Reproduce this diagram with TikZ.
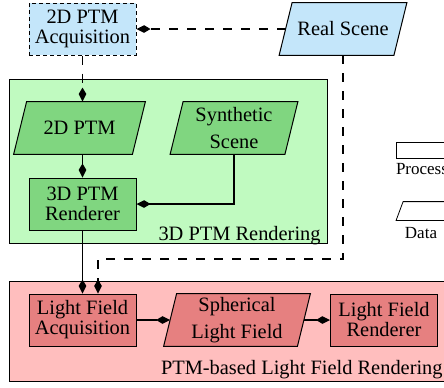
\documentclass[tikz,border=0pt]{standalone}
\usepackage{fontspec}
\setmainfont{Liberation Serif}
\usetikzlibrary{arrows.meta}
\pgfdeclarelayer{back}
\pgfdeclarelayer{mid}
\pgfsetlayers{back,mid,main}
\definecolor{bluefill}{RGB}{196,230,250}
\definecolor{greenout}{RGB}{192,250,192}
\definecolor{greenin}{RGB}{128,214,128}
\definecolor{redout}{RGB}{255,190,190}
\definecolor{redin}{RGB}{230,128,128}
\begin{document}
\begin{tikzpicture}[x=0.5pt,y=-0.5pt,
  every node/.style={inner sep=0pt, align=center},
  proc/.style={draw, line width=0.5pt, rectangle, minimum width=53.5pt, minimum height=26pt,
    font=\rmfamily\fontsize{10.2}{10}\selectfont},
  data/.style={rectangle, minimum width=#1, minimum height=26pt,
    font=\rmfamily\fontsize{10.2}{13.5}\selectfont},
  datashape/.style={draw, line width=0.5pt},
  conn/.style={line width=0.65pt, -{Kite[length=7pt,width=3.8pt,inset=3.2pt]}},
  dconn/.style={conn, dash pattern=on 4.5pt off 4.5pt},
  group/.style={draw, line width=0.5pt, rectangle, anchor=north west, inner sep=0pt},
  grplabel/.style={anchor=base east, font=\rmfamily\fontsize{10.2}{12}\selectfont},
  legtext/.style={font=\rmfamily\fontsize{8.5}{10}\selectfont}]
\useasboundingbox (0,0) rectangle (444,387);
% groups
\begin{pgfonlayer}{back}
\node[group, fill=greenout, minimum width=159pt, minimum height=82pt] (grpR) at (9,79) {};
\node[group, fill=redout, minimum width=219.5pt, minimum height=50pt] (grpL) at (9,281) {};
\end{pgfonlayer}
\node[grplabel] (lblR) at (321,240) {3D PTM Rendering};
\node[grplabel] (lblL) at (443,374) {PTM-based Light Field Rendering};
% nodes
\node[proc, fill=bluefill, dash pattern=on 2pt off 1.5pt] (acq) at (82.5,29) {2D PTM\\Acquisition};
\node[data=57pt] (real) at (343,29) {Real Scene};
\node[data=59pt] (ptm) at (79.5,128) {2D PTM};
\node[data=57pt] (synth) at (234,128) {Synthetic\\Scene};
\node[proc, fill=greenin] (rend) at (82.5,204) {3D PTM\\Renderer};
\node[proc, fill=redin] (lfa) at (82.5,320) {Light Field\\Acquisition};
\node[data=66.5pt] (slf) at (237,320) {Spherical\\Light Field};
\node[proc, fill=redin] (lfr) at (384,320) {Light Field\\Renderer};
% parallelogram outlines of the data nodes
\begin{pgfonlayer}{mid}
\foreach \n/\c in {real/bluefill, ptm/greenin, synth/greenin, slf/redin}{
  \draw[datashape, fill=\c] ([xshift=-3.25pt]\n.south west) -- ([xshift=-3.25pt]\n.south east)
    -- ([xshift=3.25pt]\n.north east) -- ([xshift=3.25pt]\n.north west) -- cycle;
}
\end{pgfonlayer}
% legend
\node[draw, line width=0.4pt, fill=white, minimum width=26pt, minimum height=8pt] (lproc) at (422,150) {};
\node[legtext] (lproct) at (422,169) {Process};
\node[minimum width=24pt, minimum height=9pt] (ldata) at (424,211) {};
\draw[line width=0.4pt, fill=white] ([xshift=-1.75pt]ldata.south west) -- ([xshift=-1.75pt]ldata.south east)
  -- ([xshift=1.75pt]ldata.north east) -- ([xshift=1.75pt]ldata.north west) -- cycle;
\node[legtext] (ldatat) at (421,233) {Data};
% connectors
\draw[dconn] (real) -- (acq);
\draw[dconn] (acq) -- (acq |- ptm.north);
\draw[conn] (rend |- ptm.south) -- (rend);
\draw[conn] (synth) |- (rend);
\draw[conn] (rend) -- (lfa);
\coordinate (turn) at (98,259);
\draw[dconn] (real) |- (turn) -- (turn |- lfa.north);
\draw[conn] (lfa) -- (slf);
\draw[conn] (slf) -- (lfr);
\end{tikzpicture}
\end{document}
